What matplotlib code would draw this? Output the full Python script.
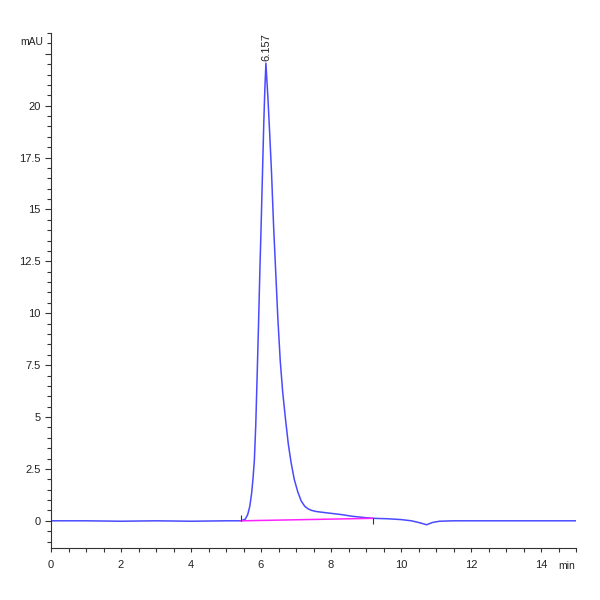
import matplotlib.pyplot as plt
from matplotlib.ticker import MultipleLocator

# chromatogram trace (min, mAU)
time_min = [0, 1, 2, 3, 4, 5, 5.3, 5.43, 5.55, 5.62, 5.68, 5.73, 5.77, 5.81,
            5.85, 5.89, 5.93, 5.97, 6.0, 6.04, 6.08, 6.11, 6.14, 6.2, 6.25,
            6.3, 6.36, 6.42, 6.48, 6.55, 6.62, 6.7, 6.78, 6.86, 6.95, 7.05,
            7.15, 7.25, 7.35, 7.45, 7.57, 7.8, 8.0, 8.3, 8.6, 9.0, 9.2, 9.6,
            10.0, 10.3, 10.55, 10.73, 10.9, 11.1, 11.5, 12, 13, 14, 15]
signal_mau = [0.0, 0.0, -0.02, 0.0, -0.02, 0.0, 0.0, 0.0, 0.08, 0.3, 0.7, 1.3,
              2.0, 2.9, 4.6, 7.0, 9.5, 12.2, 14.0, 16.6, 19.2, 20.8, 22.05,
              20.3, 18.6, 16.8, 14.2, 12.0, 9.8, 7.7, 6.2, 4.9, 3.7, 2.8, 2.0,
              1.4, 0.95, 0.7, 0.57, 0.5, 0.45, 0.40, 0.36, 0.30, 0.22, 0.15,
              0.12, 0.10, 0.06, 0.0, -0.1, -0.19, -0.08, -0.02, 0.0, 0.0, 0.0,
              0.0, 0.0]

# integration baseline and peak label
base_t = [5.43, 9.2]
base_y = [0.0, 0.12]
peak_rt = 6.157
peak_h = 22.05

plt.rcParams['font.family'] = ['Liberation Sans', 'DejaVu Sans']

fig = plt.figure(figsize=(6, 6), dpi=100)
ax = fig.add_axes([0.085, 0.087, 0.875, 0.858])

ax.plot(time_min, signal_mau, color='#4a4aff', lw=1.1)
ax.plot(base_t, base_y, color='#ff22ff', lw=1.1)
ax.vlines(base_t[0], base_y[0], base_y[0] + 0.3, color='#333333', lw=0.8)
ax.vlines(base_t[1], base_y[1] - 0.25, base_y[1], color='#333333', lw=0.8)

ax.text(peak_rt, peak_h + 0.1, f"{peak_rt:.3f}", rotation=90, ha='center',
        va='bottom', fontsize=8, color='#222222')

ax.set_xlim(0, 15)
ax.set_ylim(-1.3, 23.5)
ax.xaxis.set_major_locator(MultipleLocator(2))
ax.xaxis.set_minor_locator(MultipleLocator(0.5))
ax.yaxis.set_major_locator(MultipleLocator(2.5))
ax.yaxis.set_minor_locator(MultipleLocator(0.5))
ax.yaxis.set_major_formatter(plt.FuncFormatter(
    lambda v, p: f"{v:g}" if v <= 20 else ""))

for s in ['top', 'right']:
    ax.spines[s].set_visible(False)
for s in ['left', 'bottom']:
    ax.spines[s].set_color('#333333')
    ax.spines[s].set_linewidth(0.8)

ax.tick_params(which='both', direction='out', colors='#333333', labelsize=8,
               labelcolor='#222222')
ax.tick_params(which='major', length=4, width=0.8)
ax.tick_params(which='minor', length=3, width=0.8)
ax.tick_params(axis='x', which='major', length=3, pad=6)

fig.text(0.072, 0.93, "mAU", fontsize=7.5, ha='right', va='center', color='#222222')
fig.text(0.945, 0.057, "min", fontsize=7.5, ha='center', va='center', color='#222222')

fig.savefig("out.png", dpi=100)
